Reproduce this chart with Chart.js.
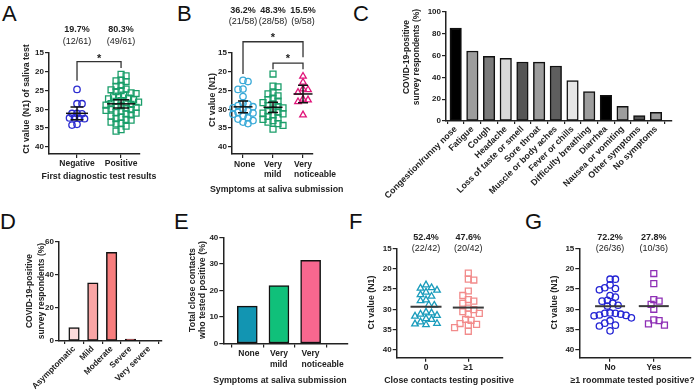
<!DOCTYPE html>
<html><head><meta charset="utf-8">
<script src="https://cdn.jsdelivr.net/npm/chart.js@4.4.0/dist/chart.umd.min.js"></script>
<style>
html,body{margin:0;padding:0;background:#fff;}
#wrap{position:relative;width:696px;height:390px;overflow:hidden;background:#fff;}
canvas{position:absolute;}
.lt{position:absolute;font:22px "Liberation Sans",Arial,sans-serif;line-height:22px;color:#111;}
</style></head><body>
<div id="wrap">
<div class="lt" style="left:2px;top:3px">A</div>
<div class="lt" style="left:177px;top:3px">B</div>
<div class="lt" style="left:353px;top:3px">C</div>
<div class="lt" style="left:0px;top:211px">D</div>
<div class="lt" style="left:174px;top:211px">E</div>
<div class="lt" style="left:349px;top:211px">F</div>
<div class="lt" style="left:525px;top:211px">G</div>
<canvas id="cA" width="190" height="195" style="left:0;top:0;width:190px;height:195px"></canvas>
<canvas id="cB" width="180" height="200" style="left:190px;top:0;width:180px;height:200px"></canvas>
<canvas id="cC" width="326" height="200" style="left:370px;top:0;width:326px;height:200px"></canvas>
<canvas id="cD" width="170" height="195" style="left:0;top:195px;width:170px;height:195px"></canvas>
<canvas id="cE" width="180" height="195" style="left:170px;top:195px;width:180px;height:195px"></canvas>
<canvas id="cF" width="176" height="195" style="left:340px;top:195px;width:176px;height:195px"></canvas>
<canvas id="cG" width="180" height="195" style="left:516px;top:195px;width:180px;height:195px"></canvas>
</div>
<script>
// ---------------- DATA ----------------
const ctTicks = [15, 20, 25, 30, 35, 40];

const catsA = ['Negative', 'Positive'];
const ctA_negative = [24.7, 28.5, 28.5, 31.1, 31.1, 31.2, 32.3, 32.3, 32.4, 32.5, 34.0, 34.2];
const ctA_positive = [20.7, 21.1, 22.2, 22.4, 22.6, 23.6, 23.9, 24.6, 24.8, 25.0, 25.3, 25.6, 25.8, 26.2, 26.5, 26.7, 27.0, 27.2, 27.4, 27.7, 27.9, 28.1, 28.3, 28.5, 28.7, 28.9, 29.1, 29.3, 29.5, 29.7, 29.9, 30.1, 30.3, 30.5, 30.8, 31.0, 31.2, 31.5, 31.8, 32.1, 32.5, 32.7, 32.9, 33.4, 33.7, 33.9, 34.5, 35.4, 35.8];
const pctA = ['19.7%', '80.3%'];
const fracA = ['(12/61)', '(49/61)'];

const catsB = [['None'], ['Very', 'mild'], ['Very', 'noticeable']];
const ctB_none = [22.3, 22.6, 24.6, 24.7, 26.6, 28.4, 28.6, 29.0, 29.3, 29.6, 30.0, 30.4, 30.8, 31.0, 31.3, 31.8, 32.3, 32.6, 33.0, 33.4, 33.8];
const ctB_mild = [20.6, 23.8, 24.0, 25.6, 25.9, 26.4, 27.0, 27.4, 27.8, 28.2, 28.6, 29.0, 29.3, 29.6, 30.0, 30.4, 30.7, 31.0, 31.2, 31.5, 31.9, 32.3, 32.7, 33.0, 33.4, 33.8, 34.3, 35.3];
const ctB_noticeable = [21.2, 22.8, 24.6, 24.8, 25.5, 27.3, 27.5, 28.0, 31.5];
const pctB = ['36.2%', '48.3%', '15.5%'];
const fracB = ['(21/58)', '(28/58)', '(9/58)'];

const symptomsC = ['Congestion/runny nose', 'Fatigue', 'Cough', 'Headache', 'Loss of taste or smell', 'Sore throat', 'Muscle or body aches', 'Fever or chills', 'Difficulty breathing', 'Diarrhea', 'Nausea or vomiting', 'Other symptoms', 'No symptoms'];
const pctC = [85.3, 64.2, 59.3, 57.5, 54.1, 54.0, 50.5, 37.0, 26.9, 23.5, 13.5, 4.9, 8.0];
const ticksC = [0, 20, 40, 60, 80, 100];

const severityD = ['Asymptomatic', 'Mild', 'Moderate', 'Severe', 'Very severe'];
const pctD = [8.1, 35.2, 53.8, 1.2, 0];
const ticksD = [0, 20, 40, 60];

const catsE = [['None'], ['Very', 'mild'], ['Very', 'noticeable']];
const pctE = [14.1, 21.8, 31.3];
const ticksE = [0, 10, 20, 30, 40];

const catsF = ['0', '\u22651'];
const ctF_zero = [24.0, 24.7, 24.8, 25.3, 25.8, 26.4, 26.8, 27.7, 27.9, 28.9, 29.0, 30.7, 30.9, 31.2, 31.5, 31.7, 32.3, 32.5, 33.1, 33.5, 33.8, 33.6];
const ctF_one = [21.1, 22.6, 22.8, 25.5, 26.6, 27.6, 28.0, 28.5, 29.7, 30.1, 30.6, 31.0, 31.2, 32.5, 32.7, 33.5, 33.7, 33.9, 34.5, 35.4];
const pctF = ['52.4%', '47.6%'];
const fracF = ['(22/42)', '(20/42)'];

const catsG = ['No', 'Yes'];
const ctG_no = [22.6, 22.6, 24.0, 24.7, 24.9, 25.2, 26.6, 27.0, 27.8, 28.0, 28.5, 29.0, 29.2, 30.9, 31.0, 31.0, 31.2, 31.4, 31.5, 31.6, 32.1, 32.8, 33.4, 33.9, 34.1, 35.3];
const ctG_yes = [21.2, 23.7, 27.6, 28.0, 28.8, 30.0, 32.6, 32.8, 33.6, 33.9];
const pctG = ['72.2%', '27.8%'];
const fracG = ['(26/36)', '(10/36)'];

// ---------------- HELPERS ----------------
const FAM = '"Liberation Sans", Arial, sans-serif';
Chart.defaults.font.family = FAM;
Chart.defaults.color = '#222';
const INK = '#222';

// simple beeswarm: spreads close values sideways so markers do not pile up
function swarm(values, cat, xPx, yPx, d) {
  const idx = values.map((v, i) => i).sort((a, b) => values[a] - values[b]);
  const placed = [], out = new Array(values.length);
  let flip = 1;
  for (const i of idx) {
    const py = values[i] * yPx;
    let chosen = 0;
    for (let k = 0; k < 60; k++) {
      const mag = Math.ceil(k / 2) * d * 0.5;
      const off = k === 0 ? 0 : (k % 2 === 1 ? flip : -flip) * mag;
      if (placed.every(p => Math.hypot(p.px - off, p.py - py) >= d)) { chosen = off; break; }
    }
    if (chosen !== 0) flip = -flip;
    placed.push({ px: chosen, py });
    out[i] = { x: cat + chosen / xPx, y: values[i] };
  }
  return out;
}

function tCrit(df) { return 1.96 + 2.37 / df + 2.8 / (df * df); }

const annotPlugin = {
  id: 'annot',
  afterDatasetsDraw(chart, args, o) {
    if (!o || !o.on) return;
    const ctx = chart.ctx, xs = chart.scales.x, ys = chart.scales.y, ca = chart.chartArea;
    ctx.save();
    (o.summaries || []).forEach(s => {
      const v = s.values, n = v.length;
      const mean = v.reduce((a, b) => a + b, 0) / n;
      const cx = xs.getPixelForValue(s.cat), my = ys.getPixelForValue(mean);
      ctx.strokeStyle = s.color; ctx.lineWidth = s.lw;
      ctx.beginPath(); ctx.moveTo(cx - s.half, my); ctx.lineTo(cx + s.half, my); ctx.stroke();
      if (s.ci) {
        const sd = Math.sqrt(v.reduce((a, b) => a + (b - mean) * (b - mean), 0) / (n - 1));
        const h = tCrit(n - 1) * sd / Math.sqrt(n);
        const lo = ys.getPixelForValue(mean - h), hi = ys.getPixelForValue(mean + h);
        ctx.beginPath();
        ctx.moveTo(cx, lo); ctx.lineTo(cx, hi);
        ctx.moveTo(cx - s.cap, lo); ctx.lineTo(cx + s.cap, lo);
        ctx.moveTo(cx - s.cap, hi); ctx.lineTo(cx + s.cap, hi);
        ctx.stroke();
      }
    });
    (o.brackets || []).forEach(b => {
      const xa = xs.getPixelForValue(b.a), xb = xs.getPixelForValue(b.b);
      const yt = ys.getPixelForValue(b.top);
      ctx.strokeStyle = '#333'; ctx.lineWidth = 1.3;
      ctx.beginPath();
      ctx.moveTo(xa, ys.getPixelForValue(b.legA)); ctx.lineTo(xa, yt); ctx.lineTo(xb, yt); ctx.lineTo(xb, ys.getPixelForValue(b.legB));
      ctx.stroke();
      ctx.fillStyle = '#222'; ctx.font = 'bold 11px ' + FAM; ctx.textAlign = 'center'; ctx.textBaseline = 'middle';
      ctx.fillText('*', (xa + xb) / 2, yt - b.starGap);
    });
    if (o.pct) {
      ctx.fillStyle = '#222'; ctx.textAlign = 'center'; ctx.textBaseline = 'middle';
      o.pct.forEach((t, i) => {
        const x = xs.getPixelForValue(i + 1);
        ctx.font = 'bold 9px ' + FAM; ctx.fillText(t, x, ca.top + o.pctDy);
        ctx.font = '9px ' + FAM; ctx.fillText(o.frac[i], x, ca.top + o.fracDy);
      });
    }
    ctx.restore();
  }
};

// axis titles drawn as free text so they are not squeezed to the axis length
const titlePlugin = {
  id: 'axisTitles',
  afterDraw(chart, args, o) {
    if (!o || !o.items) return;
    const ctx = chart.ctx;
    ctx.save();
    ctx.fillStyle = INK; ctx.textAlign = 'center'; ctx.textBaseline = 'middle';
    o.items.forEach(t => {
      ctx.font = 'bold ' + t.size + 'px ' + FAM;
      const lines = Array.isArray(t.text) ? t.text : [t.text];
      const lh = t.lh || 0;
      if (t.rot) {
        lines.forEach((ln, i) => {
          ctx.save(); ctx.translate(t.x + i * lh, t.y); ctx.rotate(-Math.PI / 2);
          ctx.fillText(ln, 0, 0); ctx.restore();
        });
      } else {
        lines.forEach((ln, i) => ctx.fillText(ln, t.x, t.y + i * lh));
      }
    });
    ctx.restore();
  }
};

const tickFont = { size: 8, weight: 'bold' };

function yAxis(min, max, tickVals, width, reverse) {
  return {
    type: 'linear', reverse: !!reverse, min, max, offset: false,
    afterBuildTicks: s => { s.ticks = tickVals.map(v => ({ value: v })); },
    ticks: { font: tickFont, color: INK, padding: 1, autoSkip: false },
    grid: { display: true, drawOnChartArea: false, drawTicks: true, tickLength: 4, color: INK, lineWidth: 1.2 },
    border: { display: true, color: INK, width: 1.5 },
    title: { display: false },
    afterFit: s => { s.width = width; s.paddingTop = 0; s.paddingBottom = 0; }
  };
}

function xAxis(min, max, cats, base, height, opts) {
  opts = opts || {};
  return {
    type: 'linear', min, max, offset: false,
    afterBuildTicks: s => { s.ticks = cats.map((c, i) => ({ value: i + base })); },
    ticks: {
      autoSkip: false, minRotation: opts.rot || 0, maxRotation: opts.rot || 0,
      align: opts.align || 'center', labelOffset: opts.lo || 0,
      font: Object.assign({ lineHeight: opts.lh || 1.2 }, opts.font || { size: 8.5, weight: 'bold' }),
      color: INK, padding: opts.pad == null ? 1 : opts.pad,
      callback: v => cats[Math.round(v) - base]
    },
    grid: { display: true, drawOnChartArea: false, drawTicks: true, tickLength: opts.tl || 4, color: INK, lineWidth: 1.2 },
    border: { display: true, color: INK, width: 1.5 },
    title: { display: false },
    afterFit: s => { s.height = height; s.paddingLeft = 0; s.paddingRight = 0; }
  };
}

function pts(data, style, color, r) {
  return {
    type: 'scatter', data, pointStyle: style, pointRadius: r, pointHoverRadius: r,
    pointBorderWidth: 1.3, borderColor: color, pointBorderColor: color,
    backgroundColor: 'rgba(0,0,0,0)', pointBackgroundColor: 'rgba(0,0,0,0)', clip: false
  };
}

const common = {
  responsive: false, animation: false, devicePixelRatio: 1,
  events: [],
  plugins: { legend: { display: false }, tooltip: { enabled: false } }
};

function opts(padding, scales, titles, annot) {
  return Object.assign({}, common, {
    layout: { padding },
    scales,
    plugins: Object.assign({}, common.plugins, { annot: annot || { on: false }, axisTitles: { items: titles } })
  });
}

// ---------------- PANEL A ----------------
new Chart(document.getElementById('cA'), {
  type: 'scatter',
  data: { datasets: [
    pts(swarm(ctA_negative, 1, 44, 3.76, 5), 'circle', '#2b2bd0', 3.2),
    pts(swarm(ctA_positive, 2, 44, 3.76, 5), 'rect', '#1a9e6a', 4.2)
  ] },
  options: opts({ left: 21.5, top: 53, right: 50, bottom: 13 }, {
    x: xAxis(0.364, 2.43, catsA, 1, 28),
    y: yAxis(15, 41.9, ctTicks, 27.5, true)
  }, [
    { text: 'Ct value (N1) of saliva test', x: 27, y: 99, rot: true, size: 8.8 },
    { text: 'First diagnostic test results', x: 99, y: 176.5, size: 8.8 }
  ], {
    on: true, pct: pctA, frac: fracA, pctDy: -23, fracDy: -11,
    summaries: [
      { values: ctA_negative, cat: 1, color: '#111', lw: 1.5, half: 11, ci: true, cap: 6.5 },
      { values: ctA_positive, cat: 2, color: '#111', lw: 1.5, half: 14, ci: true, cap: 8 }
    ],
    brackets: [{ a: 1, b: 2, top: 17.3, legA: 22.4, legB: 19.0, starGap: 3 }]
  }),
  plugins: [annotPlugin, titlePlugin]
});

// ---------------- PANEL B ----------------
new Chart(document.getElementById('cB'), {
  type: 'scatter',
  data: { datasets: [
    pts(swarm(ctB_none, 1, 30, 3.76, 5), 'circle', '#3aaad8', 3.2),
    pts(swarm(ctB_mild, 2, 30, 3.76, 5), 'rect', '#1a9e6a', 4.2),
    pts(swarm(ctB_noticeable, 3, 30, 3.76, 5), 'triangle', '#e0157a', 3.8)
  ] },
  options: opts({ left: 17.5, top: 53, right: 57, bottom: 4 }, {
    x: xAxis(0.633, 3.333, catsB, 1, 42, { lh: 1.25, align: 'start', lo: -9 }),
    y: yAxis(15, 41.9, ctTicks, 24.5, true)
  }, [
    { text: 'Ct value (N1)', x: 23, y: 100, rot: true, size: 8.8 },
    { text: 'Symptoms at saliva submission', x: 86.7, y: 190, size: 8.8 }
  ], {
    on: true, pct: pctB, frac: fracB, pctDy: -42, fracDy: -31,
    summaries: [
      { values: ctB_none, cat: 1, color: '#111', lw: 1.5, half: 9.5, ci: true, cap: 5 },
      { values: ctB_mild, cat: 2, color: '#111', lw: 1.5, half: 9.5, ci: true, cap: 5 },
      { values: ctB_noticeable, cat: 3, color: '#111', lw: 1.5, half: 9.5, ci: true, cap: 5 }
    ],
    brackets: [
      { a: 1, b: 3, top: 12.0, legA: 20.6, legB: 16.1, starGap: 4 },
      { a: 2, b: 3, top: 17.7, legA: 19.3, legB: 19.3, starGap: 4 }
    ]
  }),
  plugins: [annotPlugin, titlePlugin]
});

// ---------------- BAR HELPER ----------------
function barSet(vals, colors, thick) {
  return {
    type: 'bar', data: vals.map((v, i) => ({ x: i, y: v })),
    backgroundColor: colors, borderColor: '#111', borderWidth: 1.5, borderSkipped: false,
    barThickness: thick
  };
}

// ---------------- PANEL C ----------------
const colorsC = ['#000000', '#9d9d9d', '#7a7a7a', '#d9d9d9', '#555555', '#9d9d9d', '#5e5e5e', '#e6e6e6', '#9d9d9d', '#000000', '#9d9d9d', '#555555', '#9d9d9d'];
new Chart(document.getElementById('cC'), {
  type: 'bar',
  data: { datasets: [barSet(pctC, colorsC, 11.5)] },
  options: opts({ left: 31.5, top: 12, right: 24, bottom: 0 }, {
    x: xAxis(-0.58, 12.96, symptomsC, 0, 79, { rot: 45, font: { size: 8.8, weight: 'bold' }, pad: 0, tl: 3 }),
    y: yAxis(0, 100, ticksC, 44.5, false)
  }, [
    { text: ['COVID-19-positive', 'survey respondents (%)'], x: 36.5, y: 57, rot: true, size: 8.5, lh: 10 }
  ]),
  plugins: [titlePlugin]
});

// ---------------- PANEL D ----------------
const colorsD = ['#fcdada', '#f9a5a5', '#f77d7d', '#c4262c', '#c4262c'];
new Chart(document.getElementById('cD'), {
  type: 'bar',
  data: { datasets: [barSet(pctD, colorsD, 10.5)] },
  options: opts({ left: 24, top: 47, right: 8, bottom: 0 }, {
    x: xAxis(-0.8, 4.68, severityD, 0, 49, { rot: 45, font: { size: 8.3, weight: 'bold' }, pad: 0, tl: 3 }),
    y: yAxis(0, 60, ticksD, 35, false)
  }, [
    { text: ['COVID-19-positive', 'survey respondents (%)'], x: 30, y: 96, rot: true, size: 8.5, lh: 11.5 }
  ]),
  plugins: [titlePlugin]
});

// ---------------- PANEL E ----------------
const colorsE = ['#1295b2', '#10c07a', '#f7678f'];
new Chart(document.getElementById('cE'), {
  type: 'bar',
  data: { datasets: [barSet(pctE, colorsE, 20)] },
  options: opts({ left: 17.5, top: 42.3, right: 2, bottom: 4 }, {
    x: xAxis(-0.757, 3.18, catsE, 0, 42.4, { lh: 1.25, align: 'start', lo: -9 }),
    y: yAxis(0, 40, ticksE, 35.8, false)
  }, [
    { text: ['Total close contacts', 'who tested positive (%)'], x: 22.7, y: 95, rot: true, size: 8.8, lh: 10.3 },
    { text: 'Symptoms at saliva submission', x: 110, y: 185.5, size: 8.8 }
  ]),
  plugins: [titlePlugin]
});

// ---------------- PANEL F ----------------
new Chart(document.getElementById('cF'), {
  type: 'scatter',
  data: { datasets: [
    pts(swarm(ctF_zero, 1, 42.3, 4.07, 5.5), 'triangle', '#1a9cbc', 3.8),
    pts(swarm(ctF_one, 2, 42.3, 4.07, 5.5), 'rect', '#f28b8b', 4.2)
  ] },
  options: opts({ left: 26.5, top: 53.3, right: 13, bottom: 4.3 }, {
    x: xAxis(0.307, 2.82, catsF, 1, 28),
    y: yAxis(15, 41.9, ctTicks, 30.2, true)
  }, [
    { text: 'Ct value (N1)', x: 31.7, y: 107.5, rot: true, size: 8.8 },
    { text: 'Close contacts testing positive', x: 109, y: 185.5, size: 8.8 }
  ], {
    on: true, pct: pctF, frac: fracF, pctDy: -10.6, fracDy: 0,
    summaries: [
      { values: ctF_zero, cat: 1, color: '#3a3a3a', lw: 2, half: 15.5 },
      { values: ctF_one, cat: 2, color: '#3a3a3a', lw: 2, half: 15.5 }
    ]
  }),
  plugins: [annotPlugin, titlePlugin]
});

// ---------------- PANEL G ----------------
new Chart(document.getElementById('cG'), {
  type: 'scatter',
  data: { datasets: [
    pts(swarm(ctG_no, 1, 45.1, 4.07, 5.5), 'circle', '#2424d4', 3.2),
    pts(swarm(ctG_yes, 2, 45.1, 4.07, 5.5), 'rect', '#8e2fb5', 4.2)
  ] },
  options: opts({ left: 33.7, top: 53.3, right: 2, bottom: 4.3 }, {
    x: xAxis(0.296, 2.84, catsG, 1, 28),
    y: yAxis(15, 41.9, ctTicks, 29.6, true)
  }, [
    { text: 'Ct value (N1)', x: 39, y: 107.5, rot: true, size: 8.8 },
    { text: '\u22651 roommate tested positive?', x: 116.5, y: 185.5, size: 8.8 }
  ], {
    on: true, pct: pctG, frac: fracG, pctDy: -10.6, fracDy: 0,
    summaries: [
      { values: ctG_no, cat: 1, color: '#3a3a3a', lw: 2, half: 15 },
      { values: ctG_yes, cat: 2, color: '#3a3a3a', lw: 2, half: 15 }
    ]
  }),
  plugins: [annotPlugin, titlePlugin]
});
</script>
</body></html>
